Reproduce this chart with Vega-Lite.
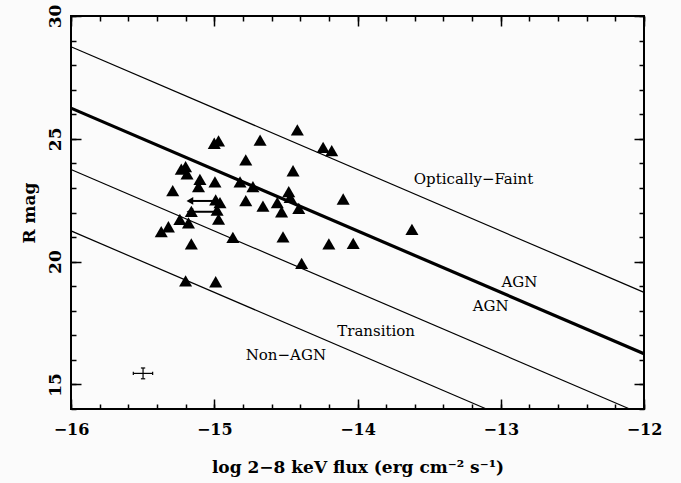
{
  "$schema": "https://vega.github.io/schema/vega-lite/v6.json",
  "width": 573,
  "height": 393,
  "autosize": {"type": "none"},
  "padding": {"left": 71, "top": 16, "right": 37, "bottom": 74},
  "background": "#fbfbfb",
  "config": {
    "view": {"stroke": "black", "strokeWidth": 2, "fill": "#fbfbfb"},
    "axis": {"domain": false, "grid": false, "ticks": true, "tickColor": "black", "tickWidth": 1.5, "labelColor": "black", "titleColor": "black", "labelFont": "DejaVu Serif", "titleFont": "DejaVu Serif", "labelFontWeight": "bold", "titleFontWeight": "bold", "labelFontSize": 16, "titleFontSize": 17, "labelOverlap": false, "labelFlush": false, "labelBound": false}
  },
  "datasets": {
    "lines": [
      {"ratio": 1, "x": -16, "y": 28.75}, {"ratio": 1, "x": -12, "y": 18.75},
      {"ratio": 0, "x": -16, "y": 26.25}, {"ratio": 0, "x": -12, "y": 16.25},
      {"ratio": -1, "x": -16, "y": 23.75}, {"ratio": -1, "x": -12.1, "y": 14},
      {"ratio": -2, "x": -16, "y": 21.25}, {"ratio": -2, "x": -13.1, "y": 14}
    ],
    "points": [
      {"x": -15.37, "y": 21.22}, {"x": -15.32, "y": 21.42}, {"x": -15.29, "y": 22.89}, {"x": -15.24, "y": 21.72},
      {"x": -15.23, "y": 23.77}, {"x": -15.20, "y": 23.87}, {"x": -15.19, "y": 23.57}, {"x": -15.18, "y": 21.58},
      {"x": -15.16, "y": 22.05}, {"x": -15.16, "y": 20.72}, {"x": -15.20, "y": 19.22}, {"x": -15.10, "y": 23.35},
      {"x": -15.11, "y": 23.05}, {"x": -15.00, "y": 24.82}, {"x": -14.97, "y": 24.92}, {"x": -14.995, "y": 23.25},
      {"x": -14.99, "y": 22.51}, {"x": -14.96, "y": 22.40}, {"x": -14.98, "y": 22.10}, {"x": -14.97, "y": 21.73},
      {"x": -14.99, "y": 19.18}, {"x": -14.87, "y": 20.99}, {"x": -14.82, "y": 23.25}, {"x": -14.78, "y": 24.14},
      {"x": -14.78, "y": 22.48}, {"x": -14.73, "y": 23.05}, {"x": -14.68, "y": 24.95}, {"x": -14.66, "y": 22.26},
      {"x": -14.56, "y": 22.40}, {"x": -14.53, "y": 22.03}, {"x": -14.52, "y": 21.01}, {"x": -14.48, "y": 22.85},
      {"x": -14.47, "y": 22.62}, {"x": -14.45, "y": 23.70}, {"x": -14.42, "y": 25.36}, {"x": -14.41, "y": 22.17},
      {"x": -14.39, "y": 19.93}, {"x": -14.24, "y": 24.65}, {"x": -14.18, "y": 24.52}, {"x": -14.20, "y": 20.72},
      {"x": -14.10, "y": 22.55}, {"x": -14.03, "y": 20.74}, {"x": -13.62, "y": 21.31}
    ],
    "arrows": [
      {"x": -15.0, "x2": -15.17, "y": 22.47},
      {"x": -15.0, "x2": -15.17, "y": 22.03}
    ],
    "errh": [
      {"x": -15.565, "x2": -15.43, "y": 15.45},
      {"x": -15.512, "x2": -15.482, "y": 15.23},
      {"x": -15.512, "x2": -15.482, "y": 15.67}
    ],
    "errv": [
      {"x": -15.497, "y": 15.23, "y2": 15.67},
      {"x": -15.565, "y": 15.38, "y2": 15.52},
      {"x": -15.43, "y": 15.38, "y2": 15.52}
    ],
    "labels": [
      {"label": "Optically−Faint", "x": -13.19, "y": 23.35},
      {"label": "AGN", "x": -12.87, "y": 19.18},
      {"label": "AGN", "x": -13.07, "y": 18.19},
      {"label": "Transition", "x": -13.87, "y": 17.17},
      {"label": "Non−AGN", "x": -14.50, "y": 16.2}
    ]
  },
  "resolve": {"axis": {"x": "independent", "y": "independent"}},
  "encoding": {
    "x": {"field": "x", "type": "quantitative", "scale": {"domain": [-16, -12], "nice": false, "zero": false}, "axis": null},
    "y": {"field": "y", "type": "quantitative", "scale": {"domain": [14, 30], "nice": false, "zero": false}, "axis": null}
  },
  "layer": [
    {
      "data": {"name": "lines"},
      "transform": [{"filter": "datum.ratio !== 0"}],
      "mark": {"type": "line", "color": "black", "strokeWidth": 1.2},
      "encoding": {
        "detail": {"field": "ratio", "type": "nominal"},
        "x": {"field": "x", "type": "quantitative", "scale": {"domain": [-16, -12], "nice": false, "zero": false},
          "axis": {"orient": "bottom", "tickCount": 4, "tickSize": 10, "offset": -10, "format": "d",
            "labelPadding": 12,
            "title": "log 2−8 keV flux (erg cm⁻² s⁻¹)", "titlePadding": 22}},
        "y": {"field": "y", "type": "quantitative", "scale": {"domain": [14, 30], "nice": false, "zero": false},
          "axis": {"orient": "left", "tickCount": 3, "tickSize": 10, "offset": -10, "format": "d",
            "labelAngle": -90, "labelAlign": "center", "labelBaseline": "bottom", "labelPadding": 7, "labelFontSize": 17,
            "title": "R mag", "titlePadding": 8}}
      }
    },
    {
      "data": {"name": "lines"},
      "transform": [{"filter": "datum.ratio === 0"}],
      "mark": {"type": "line", "color": "black", "strokeWidth": 3.2},
      "encoding": {
        "x": {"field": "x", "type": "quantitative", "scale": {"domain": [-16, -12], "nice": false, "zero": false},
          "axis": {"orient": "top", "tickCount": 4, "tickSize": 10, "offset": -10, "labels": false, "title": null}},
        "y": {"field": "y", "type": "quantitative", "scale": {"domain": [14, 30], "nice": false, "zero": false},
          "axis": {"orient": "right", "tickCount": 3, "tickSize": 10, "offset": -10, "labels": false, "title": null}}
      }
    },
    {
      "data": {"name": "points"},
      "mark": {"type": "point", "shape": "triangle-up", "filled": true, "color": "black", "opacity": 1, "size": 170},
      "encoding": {
        "x": {"field": "x", "type": "quantitative", "scale": {"domain": [-16, -12], "nice": false, "zero": false},
          "axis": {"orient": "bottom", "tickCount": 20, "tickSize": 5, "offset": -5, "labels": false, "title": null}},
        "y": {"field": "y", "type": "quantitative", "scale": {"domain": [14, 30], "nice": false, "zero": false},
          "axis": {"orient": "left", "tickCount": 16, "tickSize": 5, "offset": -5, "labels": false, "title": null}}
      }
    },
    {
      "data": {"name": "arrows"},
      "mark": {"type": "rule", "color": "black", "strokeWidth": 2},
      "encoding": {
        "x": {"field": "x", "type": "quantitative", "scale": {"domain": [-16, -12], "nice": false, "zero": false},
          "axis": {"orient": "top", "tickCount": 20, "tickSize": 5, "offset": -5, "labels": false, "title": null}},
        "x2": {"field": "x2"},
        "y": {"field": "y", "type": "quantitative", "scale": {"domain": [14, 30], "nice": false, "zero": false},
          "axis": {"orient": "right", "tickCount": 16, "tickSize": 5, "offset": -5, "labels": false, "title": null}}
      }
    },
    {"data": {"name": "arrows"}, "mark": {"type": "point", "shape": "triangle-left", "filled": true, "color": "black", "opacity": 1, "size": 60}, "encoding": {"x": {"field": "x2", "type": "quantitative", "scale": {"domain": [-16, -12], "nice": false, "zero": false}, "axis": null}}},
    {"data": {"name": "errh"}, "mark": {"type": "rule", "color": "black", "strokeWidth": 1.2}, "encoding": {"x2": {"field": "x2"}}},
    {"data": {"name": "errv"}, "mark": {"type": "rule", "color": "black", "strokeWidth": 1.2}, "encoding": {"y2": {"field": "y2"}}},
    {"data": {"name": "labels"}, "mark": {"type": "text", "font": "DejaVu Serif", "fontSize": 15, "color": "black"}, "encoding": {"text": {"field": "label"}}}
  ]
}
